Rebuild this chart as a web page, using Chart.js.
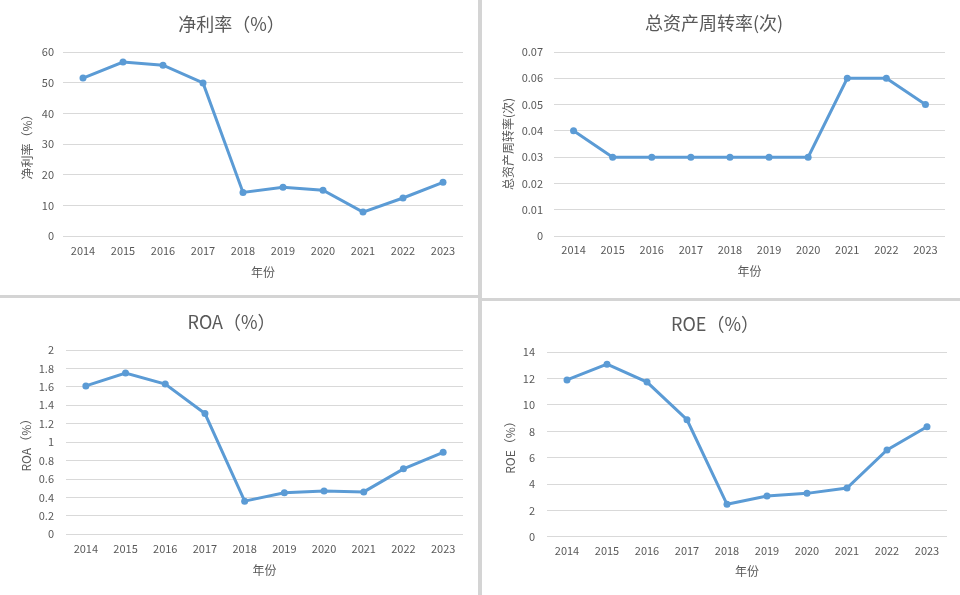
<!DOCTYPE html>
<html>
<head>
<meta charset="utf-8">
<script src="https://cdn.jsdelivr.net/npm/chart.js@4"></script>
<style>
  html, body { margin: 0; padding: 0; background: #fff; }
  #wrap { position: relative; width: 960px; height: 595px; overflow: hidden; background: #fff; }
  .panel { position: absolute; background: #fff; }
  .sep { position: absolute; background: #d4d4d4; }
</style>
</head>
<body>
<div id="wrap">
  <div class="panel" style="left:0;top:0;width:478px;height:295px"><canvas id="c1"></canvas></div>
  <div class="panel" style="left:483px;top:0;width:477px;height:298px"><canvas id="c2"></canvas></div>
  <div class="panel" style="left:0;top:298px;width:478px;height:297px"><canvas id="c3"></canvas></div>
  <div class="panel" style="left:483px;top:301px;width:477px;height:294px"><canvas id="c4"></canvas></div>
  <div class="sep" style="left:478px;top:0;width:4px;height:595px"></div>
  <div class="sep" style="left:0;top:295px;width:478px;height:3px"></div>
  <div class="sep" style="left:482px;top:298px;width:478px;height:3px"></div>
</div>
<script>
  const years = ['2014','2015','2016','2017','2018','2019','2020','2021','2022','2023'];

  const netMargin = [51.5, 56.7, 55.7, 49.9, 14.2, 15.9, 14.9, 7.8, 12.4, 17.5];
  const turnover  = [0.04, 0.03, 0.03, 0.03, 0.03, 0.03, 0.03, 0.06, 0.06, 0.05];
  const roa       = [1.61, 1.75, 1.63, 1.31, 0.36, 0.45, 0.47, 0.46, 0.71, 0.89];
  const roe       = [11.9, 13.1, 11.74, 8.88, 2.46, 3.09, 3.29, 3.70, 6.58, 8.35];

  const FONT = "'Noto Sans CJK SC', 'Noto Sans', sans-serif";
  const GREY = '#595959';
  const BLUE = '#5b9bd5';

  // cfg: canvas size + chart area (relative to canvas) + text positions
  function lineChart(id, cfg) {
    const W = cfg.w, H = cfg.h;
    const cv = document.getElementById(id);
    cv.width = W; cv.height = H;
    cv.style.width = W + 'px'; cv.style.height = H + 'px';

    return new Chart(cv, {
      type: 'line',
      data: {
        labels: years,
        datasets: [{
          data: cfg.data,
          borderColor: BLUE,
          backgroundColor: BLUE,
          borderWidth: 3,
          pointRadius: 3.5,
          pointBackgroundColor: BLUE,
          pointBorderWidth: 0,
          tension: 0
        }]
      },
      options: {
        responsive: false,
        animation: false,
        layout: { padding: { left: 0, top: 0, bottom: 0, right: W - cfg.area.r } },
        plugins: {
          legend: { display: false },
          tooltip: { enabled: false },
          title: {
            display: true,
            text: cfg.title,
            color: GREY,
            font: { family: FONT, size: 18, weight: 'normal', lineHeight: 1.2 },
            padding: { top: cfg.titleY - 10.8, bottom: cfg.area.t - cfg.titleY - 10.8 }
          }
        },
        scales: {
          x: {
            offset: true,
            grid: { display: false, drawTicks: false },
            border: { display: false },
            ticks: { color: GREY, font: { family: FONT, size: 11 }, padding: cfg.xTickY - cfg.area.b - 6.6, maxRotation: 0 },
            title: {
              display: true, text: '年份', color: GREY,
              font: { family: FONT, size: 12, lineHeight: 1.2 },
              padding: { top: 0, bottom: H - cfg.xTitleY - 7.2 }
            },
            afterFit: s => { s.height = H - cfg.area.b; }
          },
          y: {
            min: cfg.min, max: cfg.max,
            grid: { color: '#d9d9d9', lineWidth: 1, drawTicks: false },
            border: { display: false },
            ticks: {
              stepSize: cfg.step, color: GREY, font: { family: FONT, size: 11 }, padding: cfg.yTickPad,
              callback: v => String(Number(v.toFixed(3)))
            },
            title: {
              display: true, text: cfg.yTitle, color: GREY,
              font: { family: FONT, size: 12, lineHeight: 1.2 },
              padding: { top: cfg.yTitleX - 7.2, bottom: 0 }
            },
            afterFit: s => { s.width = cfg.area.l; }
          }
        }
      }
    });
  }

  lineChart('c1', {
    w: 478, h: 295, data: netMargin, title: '净利率（%）', yTitle: '净利率（%）',
    min: 0, max: 60, step: 10,
    area: { l: 63, t: 52, r: 463, b: 236 },
    titleY: 24, xTickY: 251, xTitleY: 272, yTitleX: 27, yTickPad: 9
  });

  lineChart('c2', {
    w: 477, h: 298, data: turnover, title: '总资产周转率(次)', yTitle: '总资产周转率(次)',
    min: 0, max: 0.07, step: 0.01,
    area: { l: 71, t: 52, r: 462, b: 236 },
    titleY: 23.5, xTickY: 250, xTitleY: 271.5, yTitleX: 25, yTickPad: 11
  });

  lineChart('c3', {
    w: 478, h: 297, data: roa, title: 'ROA（%）', yTitle: 'ROA（%）',
    min: 0, max: 2, step: 0.2,
    area: { l: 66, t: 52, r: 463, b: 236.3 },
    titleY: 23.7, xTickY: 251.3, xTitleY: 272, yTitleX: 26.7, yTickPad: 12
  });

  lineChart('c4', {
    w: 477, h: 294, data: roe, title: 'ROE（%）', yTitle: 'ROE（%）',
    min: 0, max: 14, step: 2,
    area: { l: 64, t: 51.3, r: 464, b: 235.7 },
    titleY: 23.3, xTickY: 250, xTitleY: 270.7, yTitleX: 27.7, yTickPad: 12
  });
</script>
</body>
</html>
